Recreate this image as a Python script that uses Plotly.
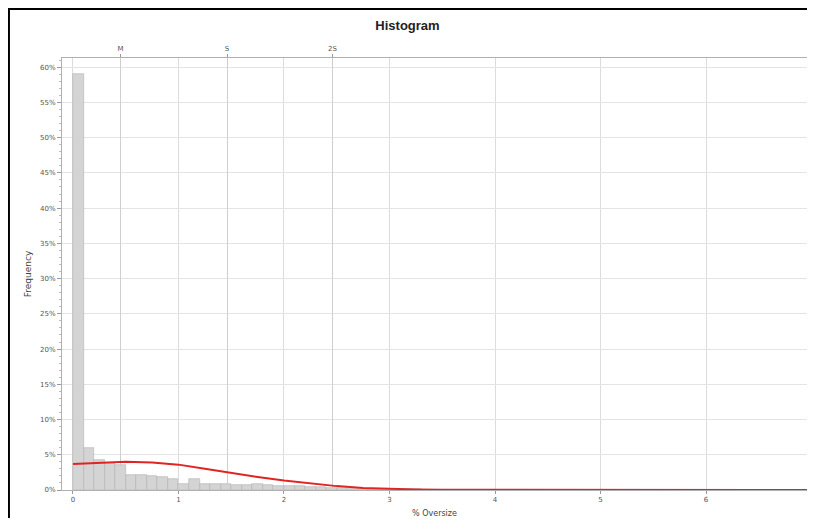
import plotly.graph_objects as go

# Histogram bins (centres, % Oversize) and frequencies (%)
bin_centers = [0.05, 0.15, 0.25, 0.35, 0.45, 0.55, 0.65, 0.75, 0.85, 0.95,
               1.05, 1.15, 1.25, 1.35, 1.45, 1.55, 1.65, 1.75, 1.85, 1.95,
               2.05, 2.15, 2.25, 2.35, 2.45, 2.55, 2.65, 2.75, 2.85, 2.95,
               3.05, 3.15, 3.25, 3.35, 3.45, 3.55, 3.65, 3.75, 3.85, 3.95,
               4.25, 4.55, 4.85, 5.15, 5.45, 5.75, 6.05, 6.35, 6.65, 6.95]
frequency = [59.0, 6.0, 4.3, 3.8, 3.6, 2.1, 2.1, 2.0, 1.8, 1.5,
             0.9, 1.5, 0.8, 0.8, 0.8, 0.7, 0.7, 0.8, 0.7, 0.6,
             0.5, 0.5, 0.4, 0.4, 0.3, 0.3, 0.2, 0.2, 0.15, 0.1,
             0.1, 0.1, 0.08, 0.06, 0.05, 0.05, 0.05, 0.05, 0.04, 0.04,
             0.05, 0.05, 0.06, 0.05, 0.05, 0.06, 0.05, 0.05, 0.05, 0.05]
bin_width = 0.1

# Fitted curve
curve_x = [0.0, 0.25, 0.5, 0.75, 1.0, 1.25, 1.5, 1.75, 2.0, 2.25, 2.5, 2.75,
           3.0, 3.25, 3.5, 4.0, 5.0, 6.0, 7.0]
curve_y = [3.7, 3.9, 4.0, 3.9, 3.6, 3.0, 2.4, 1.85, 1.35, 0.9, 0.55, 0.3,
           0.15, 0.07, 0.03, 0.01, 0.0, 0.0, 0.0]

x_ticks = [0, 1, 2, 3, 4, 5, 6]
y_ticks = [0, 5, 10, 15, 20, 25, 30, 35, 40, 45, 50, 55, 60]
y_tick_text = [f"{v}%" for v in y_ticks]
top_tick_vals = [0.45, 1.46, 2.46]
top_tick_text = ["M", "S", "2S"]

fig = go.Figure()
fig.add_trace(go.Bar(
    x=bin_centers, y=frequency, width=[bin_width] * len(bin_centers),
    marker=dict(color="#d4d4d4", line=dict(color="#b4b4b4", width=0.6)),
    showlegend=False, hoverinfo="x+y"))
fig.add_trace(go.Scatter(
    x=curve_x, y=curve_y, mode="lines",
    line=dict(color="#e02424", width=2), showlegend=False))
# invisible trace to activate top axis
fig.add_trace(go.Scatter(x=[0], y=[0], xaxis="x2", mode="markers",
                         marker=dict(opacity=0), showlegend=False, hoverinfo="skip"))

tickfont = dict(family="DejaVu Sans", size=7, color="#555555")
x_range = [-0.104, 6.957]

fig.update_layout(
    width=799, height=510,
    margin=dict(l=54, r=0, t=50, b=28, autoexpand=False),
    paper_bgcolor="white", plot_bgcolor="white",
    bargap=0,
    title=dict(text="<b>Histogram</b>", x=0.5, xanchor="center", y=0.9667, yanchor="middle",
               font=dict(family="Liberation Sans", size=13, color="#222222")),
    xaxis=dict(range=x_range, tickvals=x_ticks, ticktext=[str(v) for v in x_ticks],
               showgrid=True, gridcolor="#dcdcdc", gridwidth=1,
               showline=True, linecolor="#b0b0b0", mirror=False, automargin=False,
               ticks="outside", ticklen=3, tickcolor="#999999",
               tickfont=tickfont, zeroline=False,
               title=dict(text="% Oversize", standoff=8,
                          font=dict(family="DejaVu Sans", size=8, color="#444444"))),
    xaxis2=dict(range=x_range, overlaying="x", side="top",
                tickvals=top_tick_vals, ticktext=top_tick_text, automargin=False,
                showgrid=True, gridcolor="#cfcfcf", gridwidth=1,
                showline=True, linecolor="#b0b0b0",
                ticks="outside", ticklen=3, tickcolor="#999999",
                tickfont=tickfont, zeroline=False),
    yaxis=dict(range=[0, 61.3], tickvals=y_ticks, ticktext=y_tick_text,
               showgrid=True, gridcolor="#e4e4e4", gridwidth=1,
               showline=True, linecolor="#b0b0b0", mirror=True, automargin=False,
               ticks="outside", ticklen=4, tickcolor="#999999",
               minor=dict(dtick=1, ticks="outside", ticklen=2, tickcolor="#bbbbbb", showgrid=False),
               tickfont=tickfont, zeroline=False,
               title=dict(text="Frequency", standoff=6,
                          font=dict(family="DejaVu Sans", size=9, color="#444444"))),
    shapes=[dict(type="rect", xref="paper", yref="paper",
                 x0=-0.0712, x1=1.05, y0=-0.2, y1=1.1134,
                 line=dict(color="black", width=2), fillcolor="rgba(0,0,0,0)",
                 layer="below")],
)

fig.write_html("out.html")
